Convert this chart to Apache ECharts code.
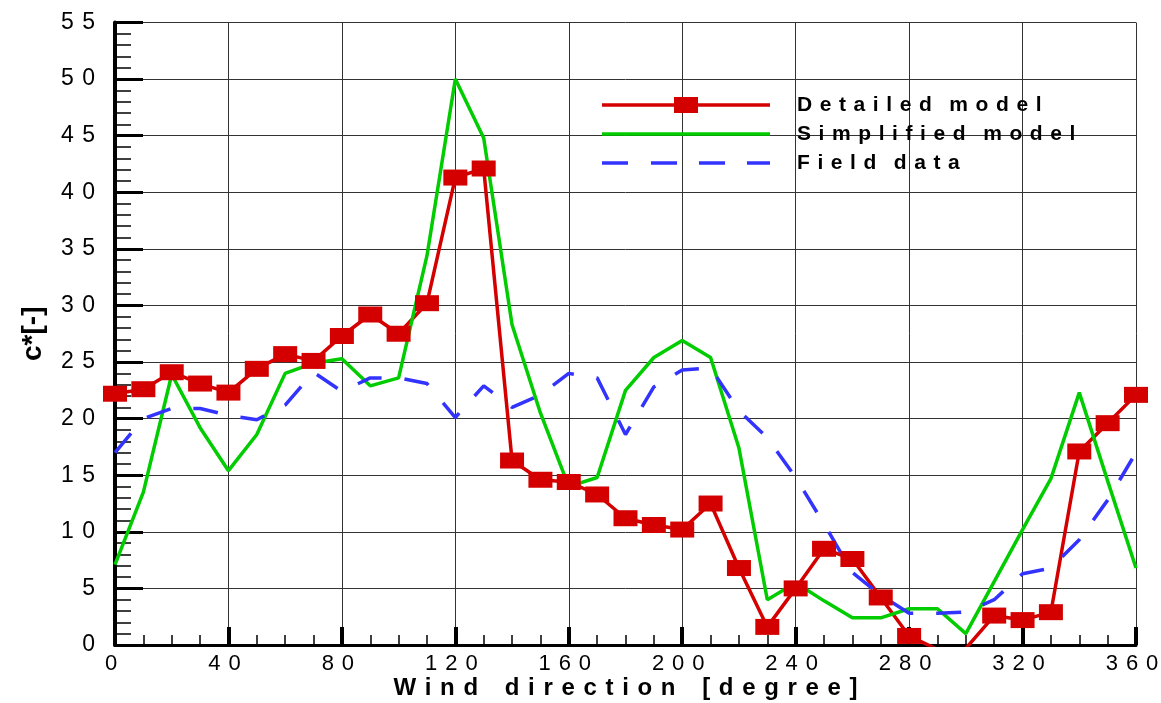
<!DOCTYPE html>
<html>
<head>
<meta charset="utf-8">
<script src="https://cdn.jsdelivr.net/npm/echarts@6/dist/echarts.min.js"></script>
<style>
html,body{margin:0;padding:0;background:#fff;}
#chart{width:1161px;height:703px;}
</style>
</head>
<body>
<div id="chart"></div>
<script>
// ---- data ----
const windDir = [0,10,20,30,40,50,60,70,80,90,100,110,120,130,140,150,160,170,180,190,200,210,220,230,240,250,260,270,280,290,300,310,320,330,340,350,360];
const detailedModel = [22.2,22.6,24.1,23.1,22.3,24.4,25.7,25.1,27.3,29.2,27.5,30.2,41.3,42.1,16.3,14.6,14.4,13.3,11.2,10.6,10.2,12.5,6.8,1.6,5.0,8.5,7.6,4.2,0.8,-0.4,-0.3,2.6,2.2,2.9,17.1,19.6,22.1];
const simplifiedModel = [7.1,13.5,23.9,19.2,15.4,18.6,24.0,24.9,25.3,22.9,23.6,34.4,50.0,44.8,28.3,20.5,14.0,14.8,22.5,25.4,26.9,25.4,17.4,4.0,5.5,3.9,2.4,2.4,3.2,3.2,1.0,5.6,10.2,14.7,22.3,14.5,6.8];
const fieldData = [17.0,20.0,20.9,20.9,20.3,19.9,21.2,24.1,22.4,23.6,23.6,23.1,20.1,22.9,21.0,22.1,24.0,23.6,18.6,22.8,24.3,24.5,20.7,18.3,14.8,10.7,6.4,4.4,2.8,2.8,2.9,4.0,6.3,6.8,9.3,12.8,17.0];
const seriesNames = ['Detailed model','Simplified model','Field data'];
const xAxisTitle = 'Wind direction [degree]';
const yAxisTitle = 'c*[-]';

// ---- helpers ----
const GAP = ' \u200A';
function spaced(s, wordGap) {
  return s.split(' ').map(w => w.split('').join(GAP)).join(wordGap);
}
function pairs(ys) { return windDir.map((x, i) => [x, ys[i]]); }

const RED = '#d40000', GREEN = '#00cc00', BLUE = '#3333ff';
const FONT = 'Liberation Sans, Arial, sans-serif';

const chart = echarts.init(document.getElementById('chart'), null, {renderer: 'canvas'});

function legendFor(name, icon, h, color, top) {
  return {
    show: true, left: 602, top: top, padding: 0,
    orient: 'vertical', selectedMode: false,
    itemWidth: 168, itemHeight: h, symbolKeepAspect: false,
    itemStyle: {borderWidth: 0},
    data: [{name: name, icon: icon, itemStyle: {color: color, borderWidth: 0}}],
    formatter: n => spaced(n, '   '),
    textStyle: {fontFamily: FONT, fontWeight: 'bold', fontSize: 21, color: '#000', lineHeight: 24, padding: [0, 0, 0, 22]}
  };
}

const option = {
  animation: false,
  backgroundColor: '#fff',
  grid: {left: 115, right: 25, top: 22.5, bottom: 58, containLabel: false, outerBoundsMode: 'none'},
  legend: [
    legendFor(seriesNames[0], 'path://M0,6.25H72V0H96V6.25H168V9.75H96V16H72V9.75H0Z', 16, RED, 93),
    legendFor(seriesNames[1], 'rect', 3.5, GREEN, 122),
    legendFor(seriesNames[2], 'path://M0,0H26V3.5H0Z M49,0H75V3.5H49Z M97,0H123V3.5H97Z M145,0H168V3.5H145Z', 3.5, BLUE, 151)
  ],
  xAxis: {
    type: 'value', min: 0, max: 360, interval: 40,
    name: spaced(xAxisTitle, '    '), nameLocation: 'middle', nameGap: 31, nameMoveOverlap: false,
    nameTextStyle: {fontFamily: FONT, fontWeight: 'bold', fontSize: 24, color: '#000', verticalAlign: 'top'},
    axisLine: {show: true, onZero: false, lineStyle: {color: '#000', width: 3}},
    axisTick: {show: true, inside: true, length: 18, lineStyle: {color: '#000', width: 4}},
    minorTick: {show: true, splitNumber: 4, length: 10, lineStyle: {color: '#000', width: 1.5}},
    axisLabel: {fontFamily: FONT, fontSize: 22, color: '#000', margin: 8, padding: [0, 8, 0, 0], formatter: v => spaced(String(v), ' ')},
    splitLine: {show: true, lineStyle: {color: '#333', width: 1}}
  },
  yAxis: {
    type: 'value', min: 0, max: 55, interval: 5,
    name: yAxisTitle, nameLocation: 'middle', nameGap: 68, nameRotate: 90, nameMoveOverlap: false,
    nameTextStyle: {fontFamily: FONT, fontWeight: 'bold', fontSize: 28, color: '#000'},
    axisLine: {show: true, onZero: false, lineStyle: {color: '#000', width: 4}},
    axisTick: {show: true, inside: true, length: 28, lineStyle: {color: '#000', width: 3}},
    minorTick: {show: true, splitNumber: 5, length: 16, lineStyle: {color: '#000', width: 1.5}},
    axisLabel: {fontFamily: FONT, fontSize: 23, color: '#000', margin: 20, formatter: v => spaced(String(v), ' ')},
    splitLine: {show: true, lineStyle: {color: '#333', width: 1}}
  },
  series: [
    {
      name: seriesNames[0], type: 'line', data: pairs(detailedModel), clip: true,
      symbol: 'rect', symbolSize: [24, 16], showAllSymbol: true,
      itemStyle: {color: RED, borderWidth: 0},
      lineStyle: {color: RED, width: 3.5}
    },
    {
      name: seriesNames[1], type: 'line', data: pairs(simplifiedModel), clip: true,
      symbol: 'none', itemStyle: {color: GREEN},
      lineStyle: {color: GREEN, width: 3.5}
    },
    {
      name: seriesNames[2], type: 'line', data: pairs(fieldData), clip: true,
      symbol: 'none', itemStyle: {color: BLUE},
      lineStyle: {color: BLUE, width: 3.5, type: [25, 23], cap: 'butt'}
    }
  ]
};
chart.setOption(option);
</script>
</body>
</html>
